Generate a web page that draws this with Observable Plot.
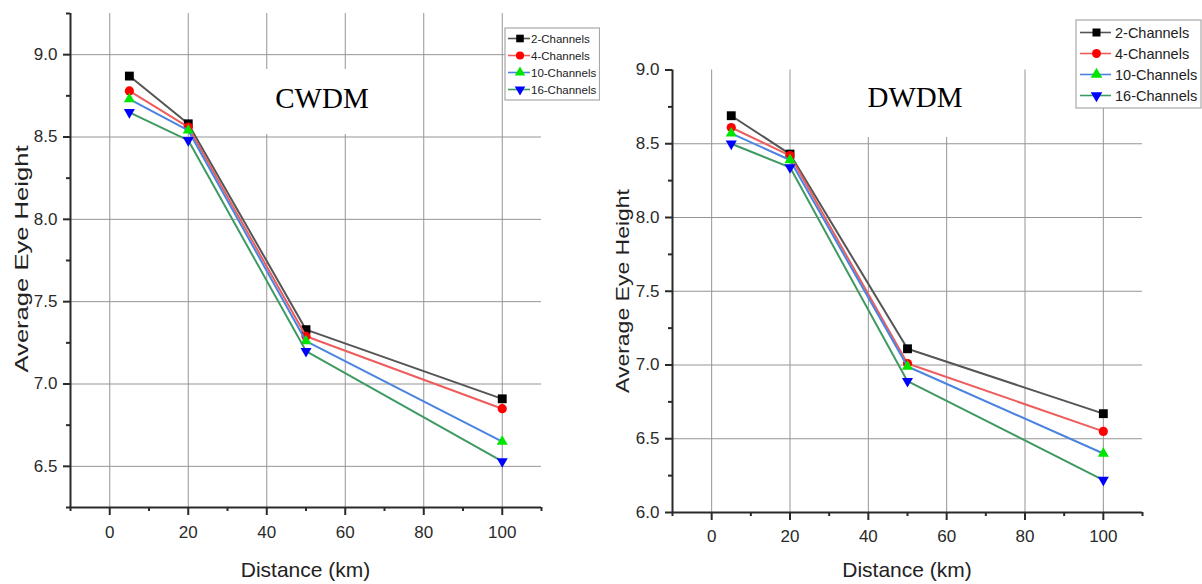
<!DOCTYPE html>
<html><head><meta charset="utf-8">
<script src="https://cdn.jsdelivr.net/npm/d3@7"></script>
<script src="https://cdn.jsdelivr.net/npm/@observablehq/plot@0.6"></script>
<style>
body{margin:0;background:#fff;width:1202px;height:584px;overflow:hidden;font-family:"Liberation Sans",Arial,sans-serif}
#wrap{position:relative;width:1202px;height:584px}
#wrap svg{position:absolute;top:0}
</style></head><body><div id="wrap"></div>
<script>
// ---- data ----
const distances = [5, 20, 50, 100];
const seriesNames = ["2-Channels", "4-Channels", "10-Channels", "16-Channels"];
const cwdm2  = [8.87, 8.58, 7.33, 6.91];
const cwdm4  = [8.78, 8.56, 7.29, 6.85];
const cwdm10 = [8.73, 8.54, 7.26, 6.65];
const cwdm16 = [8.65, 8.48, 7.20, 6.53];
const dwdm2  = [8.69, 8.43, 7.11, 6.67];
const dwdm4  = [8.61, 8.42, 7.01, 6.55];
const dwdm10 = [8.57, 8.39, 6.99, 6.40];
const dwdm16 = [8.50, 8.34, 6.89, 6.22];
const xTicks = [0, 20, 40, 60, 80, 100];
const xMinor = [-10, 10, 30, 50, 70, 90, 110];
const cwdmYTicks = [6.5, 7.0, 7.5, 8.0, 8.5, 9.0];
const cwdmYMinor = [6.25, 6.75, 7.25, 7.75, 8.25, 8.75, 9.25];
const dwdmYTicks = [6.0, 6.5, 7.0, 7.5, 8.0, 8.5, 9.0];
const dwdmYMinor = [6.25, 6.75, 7.25, 7.75, 8.25, 8.75];
const dwdmYGrid = [6.5, 7.0, 7.5, 8.0, 8.5];
const lineColors = ["#555555", "#ee5c5c", "#4a84e0", "#3f9a62"];
const markerColors = ["#000000", "#ff0000", "#00e600", "#0000ff"];

// ---- symbols ----
const triangleDown = {
  draw(context, size) {
    const y = -Math.sqrt(size / (Math.sqrt(3) * 3));
    context.moveTo(0, -y * 2);
    context.lineTo(-Math.sqrt(3) * y, y);
    context.lineTo(Math.sqrt(3) * y, y);
    context.closePath();
  }
};
const markerSymbols = [d3.symbolSquare, d3.symbolCircle, d3.symbolTriangle, triangleDown];
const markerR = [5, 4.6, 4.1, 4.1];

function rows(vals) {
  return seriesNames.map((s, i) => distances.map((d, j) => ({series: s, x: d, y: vals[i][j]})));
}

function panel(o) {
  const data = rows(o.vals);
  const marks = [
    Plot.gridX(xTicks, {stroke: "#959595", strokeOpacity: 1, strokeWidth: 1}),
    Plot.gridY(o.yGrid, {stroke: "#959595", strokeOpacity: 1, strokeWidth: 1}),
    Plot.axisX(xTicks, {tickSize: 8, tickPadding: o.xPad, color: "#2a2a2a", strokeWidth: 2, label: null, fontSize: 17}),
    Plot.axisX(xMinor, {tickSize: 4, tickFormat: () => "", color: "#2a2a2a", strokeWidth: 2, label: null}),
    Plot.axisY(o.yTicks, {tickSize: 7, tickPadding: 6, tickFormat: d3.format(".1f"), color: "#2a2a2a", strokeWidth: 2, label: null, fontSize: 17}),
    Plot.axisY(o.yMinor, {tickSize: 4, tickFormat: () => "", color: "#2a2a2a", strokeWidth: 2, label: null}),
    Plot.ruleX([-10], {stroke: "#2a2a2a", strokeWidth: 2}),
    Plot.ruleY([o.yDomain[0]], {stroke: "#2a2a2a", strokeWidth: 2})
  ];
  data.forEach((d, i) => {
    marks.push(Plot.line(d, {x: "x", y: "y", stroke: lineColors[i], strokeWidth: 2}));
    marks.push(Plot.dot(d, {x: "x", y: "y", fill: markerColors[i], stroke: "none", symbol: markerSymbols[i], r: markerR[i]}));
  });
  const svgEl = Plot.plot({
    width: o.width, height: 584,
    marginLeft: o.ml, marginRight: o.mr, marginTop: o.mt, marginBottom: o.mb,
    x: {domain: [-10, 110]},
    y: {domain: o.yDomain},
    style: {fontFamily: "'Liberation Sans', Arial, sans-serif", fontSize: "17px", color: "#2a2a2a", background: "transparent"},
    marks
  });
  svgEl.style.left = o.left + "px";
  const svg = d3.select(svgEl);
  // title box + title
  svg.append("rect").attr("x", o.tb[0]).attr("y", o.tb[1]).attr("width", o.tb[2]).attr("height", o.tb[3]).attr("fill", "#fff");
  svg.append("text").text(o.title).attr("x", o.tx).attr("y", o.ty)
    .attr("text-anchor", "middle").attr("font-family", "'Liberation Serif', 'Times New Roman', serif")
    .attr("font-size", 29).attr("fill", "#000");
  // legend
  const L = o.leg;
  const g = svg.append("g");
  g.append("rect").attr("x", L.x).attr("y", L.y).attr("width", L.w).attr("height", L.h)
    .attr("fill", "#fff").attr("stroke", "#a8a8a8").attr("stroke-width", 1.2);
  seriesNames.forEach((s, i) => {
    const yy = L.rows[i];
    g.append("line").attr("x1", L.lx1).attr("x2", L.lx2).attr("y1", yy).attr("y2", yy)
      .attr("stroke", lineColors[i]).attr("stroke-width", 1.6);
    g.append("path").attr("d", d3.symbol(markerSymbols[i], L.sizes[i])())
      .attr("transform", `translate(${L.mx},${yy})`).attr("fill", markerColors[i]);
    g.append("text").text(s).attr("x", L.tx).attr("y", yy).attr("dy", "0.36em")
      .attr("text-anchor", "start")
      .attr("font-size", L.fs).attr("fill", "#222");
  });
  // axis labels
  svg.append("text").text("Average Eye Height")
    .attr("transform", `translate(${o.ylx},${o.yly}) rotate(-90)`)
    .attr("text-anchor", "middle").attr("dy", "0.35em")
    .attr("font-size", 19).attr("fill", "#222")
    .attr("textLength", o.ylLen).attr("lengthAdjust", "spacingAndGlyphs");
  svg.append("text").text("Distance (km)")
    .attr("x", o.xlx).attr("y", 577).attr("text-anchor", "middle")
    .attr("font-size", 21).attr("fill", "#222");
  document.getElementById("wrap").appendChild(svgEl);
}

panel({
  vals: [cwdm2, cwdm4, cwdm10, cwdm16], width: 600, left: 0,
  ml: 70, mr: 59, mt: 13, mb: 77,
  yDomain: [6.25, 9.25], yTicks: cwdmYTicks, yMinor: cwdmYMinor, yGrid: cwdmYTicks, xPad: 10,
  title: "CWDM", tx: 322, ty: 108, tb: [256, 69, 138, 65],
  leg: {x: 505, y: 28, w: 94.5, h: 72, rows: [38.5, 55.5, 72.5, 89.5], lx1: 508, lx2: 530, mx: 520, tx: 531, fs: 11.5,
        sizes: [58, 52, 48, 48]},
  ylx: 21, yly: 259, ylLen: 227, xlx: 305.5
});
panel({
  vals: [dwdm2, dwdm4, dwdm10, dwdm16], width: 602, left: 600,
  ml: 72, mr: 60, mt: 69.5, mb: 72,
  yDomain: [6.0, 9.0], yTicks: dwdmYTicks, yMinor: dwdmYMinor, yGrid: dwdmYGrid, xPad: 9,
  title: "DWDM", tx: 315, ty: 107, tb: [226, 69, 142, 68],
  leg: {x: 476, y: 20, w: 125, h: 88, rows: [32.5, 53.5, 74.5, 95.5], lx1: 480, lx2: 511, mx: 496.5, tx: 515, fs: 14.5,
        sizes: [64, 62, 58, 58]},
  ylx: 22, yly: 291, ylLen: 204, xlx: 307
});
</script>
</body></html>
